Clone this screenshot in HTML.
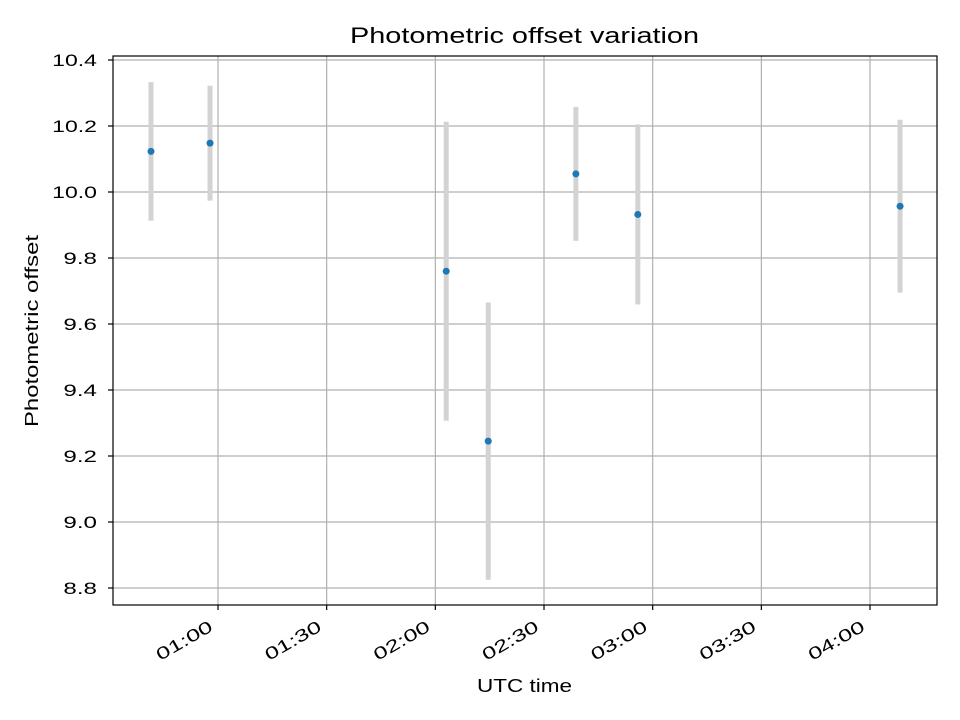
<!DOCTYPE html>
<html><head><meta charset="utf-8">
<style>
html,body{margin:0;padding:0;background:#fff;}
svg{display:block;font-family:"Liberation Sans","DejaVu Sans",sans-serif;}
</style></head>
<body>
<svg id="chart" width="960" height="720" viewBox="0 0 960 720">
<rect width="960" height="720" fill="#fff"/>
<g id="grid"></g>
<g id="errs"></g>
<g id="pts"></g>
<rect x="113" y="56" width="824" height="549" fill="none" stroke="#000" stroke-width="1.2"/>
<g id="axes"></g>
<text x="350" y="43" font-size="22" textLength="349" lengthAdjust="spacingAndGlyphs">Photometric offset variation</text>
<text x="477" y="692" font-size="18" textLength="95" lengthAdjust="spacingAndGlyphs">UTC time</text>
<text x="38" y="427" font-size="18" textLength="192" lengthAdjust="spacingAndGlyphs" transform="rotate(-90 38 427)">Photometric offset</text>
</svg>
<script>
// minutes after midnight UTC
const times = [41.5, 57.8, 123, 134.6, 158.8, 175.9, 248.3];
const offsets = [10.123, 10.148, 9.76, 9.245, 10.055, 9.932, 9.957];
const errors = [0.21, 0.174, 0.453, 0.42, 0.203, 0.273, 0.262];
const yTicks = [8.8, 9.0, 9.2, 9.4, 9.6, 9.8, 10.0, 10.2, 10.4];
const xTicks = [60, 90, 120, 150, 180, 210, 240];
const xTickLabels = ["01:00","01:30","02:00","02:30","03:00","03:30","04:00"];

const NS = "http://www.w3.org/2000/svg";
const L=113,R=937,T=56,B=605;
function xs(m){return 218 + (m-60)*(108.67/30);}
function ys(v){return 60 + (10.4-v)*330;}
function mk(tag, attrs, parent){const e=document.createElementNS(NS,tag);for(const k in attrs)e.setAttribute(k,attrs[k]);document.getElementById(parent).appendChild(e);return e;}

yTicks.forEach(v=>{
  const y=ys(v);
  const g=mk("line",{x1:L,x2:R,y1:y,y2:y,stroke:"#b0b0b0","stroke-width":1.2},"grid");
  
  
  const t=mk("line",{x1:L-5,x2:L,y1:y,y2:y,stroke:"#000","stroke-width":1.2},"axes");
  
  
  const s=v.toFixed(1);
  const w=s.length*11.2;
  const lb=mk("text",{x:L-16-w,y:y+6,"font-size":17,textLength:w,lengthAdjust:"spacingAndGlyphs"},"axes");
  lb.textContent=s;
  
  
});
xTicks.forEach((m,i)=>{
  const x=xs(m);
  const g=mk("line",{x1:x,x2:x,y1:T,y2:B,stroke:"#b0b0b0","stroke-width":1.2},"grid");
  
  
  const t=mk("line",{x1:x,x2:x,y1:B,y2:B+5,stroke:"#000","stroke-width":1.2},"axes");
  
  
  const ax=x-4, ay=B+25;
  const lb=mk("text",{x:ax-62,y:ay,"font-size":17,textLength:62,lengthAdjust:"spacingAndGlyphs",transform:`rotate(-30 ${ax} ${ay})`},"axes");
  lb.textContent=xTickLabels[i];
  
  
});
times.forEach((m,i)=>{
  const x=xs(m);
  const e=mk("line",{x1:x,x2:x,y1:ys(offsets[i]+errors[i]),y2:ys(offsets[i]-errors[i]),stroke:"#d3d3d3","stroke-width":5},"errs");
  
  
  const p=mk("circle",{cx:x,cy:ys(offsets[i]),r:3.5,fill:"#1f77b4"},"pts");
  
  
});
</script>
</body></html>
